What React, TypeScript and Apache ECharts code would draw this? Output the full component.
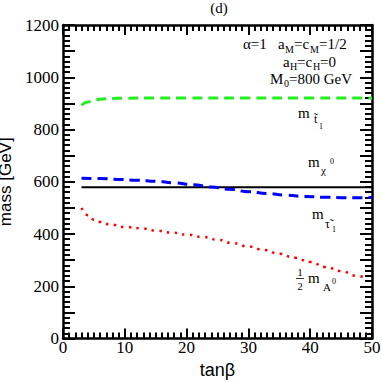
import React, { useEffect, useRef } from "react";
import * as echarts from "echarts";

// tan(beta) sample points and masses [GeV]
const stopTan = [3, 4, 5, 6, 8, 10, 15, 20, 30, 40, 50];
const stopMass = [893, 905, 912, 916, 919, 920, 921, 921, 921, 921, 920];

const neutTan = [3, 50];
const neutMass = [579, 579];

const stauTan = [3, 6, 9, 12, 15, 18, 21, 24, 27, 30, 33, 36, 39, 42, 45, 48, 50];
const stauMass = [613, 612, 609, 606, 602, 596, 589, 580, 571, 562, 555, 549, 544, 541, 539, 539, 540];

const aTan = [3, 4, 5, 6, 7.5, 10, 12.5, 15, 17.5, 20, 22.5, 25, 27.5, 30, 32.5, 35, 37.5, 40, 42.5, 45, 47.5, 49];
const aMass = [500, 472, 455, 446, 437, 427, 422, 413, 406, 398, 389, 378, 365, 352, 339, 324, 309, 293, 274, 258, 240, 230];

const xTicks = { min: 0, max: 50, interval: 10 };
const yTicks = { min: 0, max: 1200, interval: 100, labelStep: 200 };

const zip = (xs: number[], ys: number[]) => xs.map((x, i) => [x, ys[i]]);

const SERIF = "Liberation Serif";
const SANS = "Liberation Sans";

const t = (text: string, x: number, y: number, size: number, align: string = "left") => ({
  type: "text",
  x,
  y,
  silent: true,
  style: {
    text,
    fontSize: size,
    fontFamily: SERIF,
    lineHeight: Math.round(size * 0.8),
    fill: "#000",
    align,
    verticalAlign: "middle",
  },
});

const tickRich = { s: { fontFamily: SERIF, fontSize: 17, color: "#000" } };

export default function App() {
  const ref = useRef<HTMLDivElement>(null);
  useEffect(() => {
    if (!ref.current) return;
    const chart = echarts.init(ref.current, undefined, { renderer: "svg" });

    const axisCommon = {
      axisLine: { show: true, onZero: false, lineStyle: { color: "#000", width: 2.5 } },
      splitLine: { show: false },
    };

    const xAxisBase = (pos: string, showLabel: boolean) => ({
      type: "value",
      position: pos,
      min: xTicks.min,
      max: xTicks.max,
      interval: xTicks.interval,
      ...axisCommon,
      axisTick: { show: true, inside: true, length: 10, lineStyle: { color: "#000", width: 2 } },
      minorTick: { show: true, splitNumber: 10, length: 6, lineStyle: { color: "#000", width: 2 } },
      axisLabel: {
        show: showLabel,
        color: "#000",
        fontSize: 17,
        fontFamily: SERIF,
        margin: 0,
        rich: tickRich,
        formatter: (v: number) => `{s|${v}}`,
      },
    });

    const yAxisBase = (pos: string, showLabel: boolean) => ({
      type: "value",
      position: pos,
      min: yTicks.min,
      max: yTicks.max,
      interval: yTicks.interval,
      ...axisCommon,
      axisTick: { show: true, inside: true, length: 12, lineStyle: { color: "#000", width: 2 } },
      minorTick: { show: true, splitNumber: 5, length: 7, lineStyle: { color: "#000", width: 2 } },
      axisLabel: {
        show: showLabel,
        color: "#000",
        fontSize: 17,
        fontFamily: SERIF,
        margin: 4,
        rich: tickRich,
        formatter: (v: number) => (v % yTicks.labelStep === 0 ? `{s|${v}}` : ""),
      },
    });

    const option: any = {
      animation: false,
      backgroundColor: "#fff",
      textStyle: { fontFamily: SERIF },
      grid: { left: 63, right: 10, top: 25, bottom: 43.5, containLabel: false, outerBoundsMode: "none" },
      xAxis: [
        {
          ...xAxisBase("bottom", true),
          name: "tanβ",
          nameLocation: "middle",
          nameGap: 22,
          nameTextStyle: { color: "#000", fontSize: 18, fontFamily: SANS },
        },
        { ...xAxisBase("top", false) },
      ],
      yAxis: [
        {
          ...yAxisBase("left", true),
          name: "mass [GeV]",
          nameLocation: "middle",
          nameGap: 39,
          nameTextStyle: { color: "#000", fontSize: 17, lineHeight: 17, fontFamily: SANS },
        },
        { ...yAxisBase("right", false) },
      ],
      series: [
        {
          type: "line",
          data: zip(stopTan, stopMass),
          smooth: true,
          smoothMonotone: "x",
          showSymbol: false,
          lineStyle: { color: "#22ee22", width: 3, type: [10, 6], cap: "butt" },
        },
        {
          type: "line",
          data: zip(neutTan, neutMass),
          showSymbol: false,
          lineStyle: { color: "#000", width: 2 },
        },
        {
          type: "line",
          data: zip(stauTan, stauMass),
          smooth: true,
          smoothMonotone: "x",
          showSymbol: false,
          lineStyle: { color: "#0000ff", width: 3, type: [10, 6], cap: "butt" },
        },
        {
          type: "line",
          data: zip(aTan, aMass),
          smooth: true,
          smoothMonotone: "x",
          showSymbol: false,
          lineStyle: { color: "#ff0000", width: 2.5, type: [2.5, 5.2], cap: "butt" },
        },
      ],
      graphic: [
        t("(d)", 219, 8, 15, "center"),
        // alpha = 1   a_M = c_M = 1/2
        t("α=1", 243, 44, 15),
        t("a", 278, 44, 15),
        t("M", 285, 49, 10),
        t("=c", 294, 44, 15),
        t("M", 310, 49, 10),
        t("=1/2", 319, 44, 15),
        // a_H = c_H = 0
        t("a", 283, 62, 15),
        t("H", 290, 66, 10),
        t("=c", 297, 62, 15),
        t("H", 313, 66, 10),
        t("=0", 320, 62, 15),
        // M_0 = 800 GeV
        t("M", 270, 79, 15),
        t("0", 284, 83, 10),
        t("=800 GeV", 289, 79, 15),
        // m_stop1
        t("m", 298, 113, 15),
        t("t\u0303", 314, 119, 12),
        t("1", 319, 126, 8),
        // m_chi0
        t("m", 308, 162, 15),
        t("χ", 321, 170, 11),
        t("0", 330, 161, 8),
        // m_stau1
        t("m", 312, 214, 15),
        t("τ\u0303", 325, 224, 12),
        t("1", 332, 229, 8),
        // 1/2 m_A0
        t("1", 300, 272, 11, "center"),
        {
          type: "line",
          silent: true,
          shape: { x1: 296, y1: 278.5, x2: 304, y2: 278.5 },
          style: { stroke: "#000", lineWidth: 0.8 },
        },
        t("2", 300, 286, 11, "center"),
        t("m", 308, 278, 15),
        t("A", 323, 287, 11),
        t("0", 332, 281, 8),
      ],
    };

    chart.setOption(option);
    return () => chart.dispose();
  }, []);

  return <div ref={ref} style={{ width: 382, height: 382, position: "absolute", left: 0, top: 0 }} />;
}
